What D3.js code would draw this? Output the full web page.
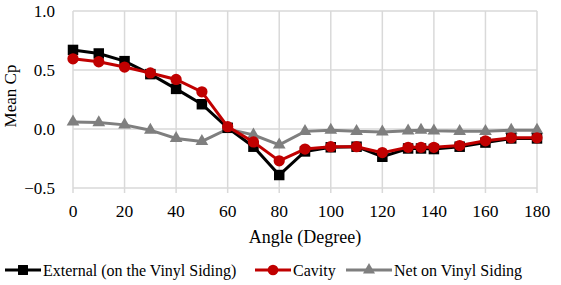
<!DOCTYPE html>
<html>
<head>
<meta charset="utf-8">
<script src="https://cdn.jsdelivr.net/npm/d3@7"></script>
<style>
  body { margin: 0; background: #fff; }
</style>
</head>
<body>
<div id="chart-area"></div>
<script>
var angles = [0, 10, 20, 30, 40, 50, 60, 70, 80, 90, 100, 110, 120, 130, 135, 140, 150, 160, 170, 180];
var external = [0.67, 0.64, 0.575, 0.465, 0.34, 0.21, 0.01, -0.15, -0.39, -0.19, -0.155, -0.15, -0.235, -0.165, -0.165, -0.17, -0.15, -0.115, -0.08, -0.08];
var cavity = [0.595, 0.57, 0.525, 0.475, 0.42, 0.315, 0.02, -0.11, -0.27, -0.17, -0.15, -0.15, -0.2, -0.155, -0.155, -0.155, -0.14, -0.1, -0.075, -0.075];
var net = [0.06, 0.055, 0.035, -0.01, -0.08, -0.105, 0.0, -0.05, -0.135, -0.02, -0.01, -0.02, -0.025, -0.015, -0.01, -0.015, -0.02, -0.02, -0.01, -0.01];
var xTicks = [0, 20, 40, 60, 80, 100, 120, 140, 160, 180];
var yTicks = [-0.5, 0.0, 0.5, 1.0];

var width = 561, height = 285;
var margin = { top: 11, right: 24, bottom: 97, left: 73 };

var svg = d3.select("#chart-area")
    .append("svg")
    .attr("width", width)
    .attr("height", height)
    .attr("font-family", "'Liberation Serif', 'Times New Roman', serif");

var x = d3.scaleLinear().domain([0, 180]).range([margin.left, width - margin.right]);
var y = d3.scaleLinear().domain([-0.5, 1.0]).range([height - margin.bottom, margin.top]);

// grid
svg.append("g").selectAll("line.vg")
    .data(xTicks)
    .enter().append("line")
    .attr("x1", d => x(d)).attr("x2", d => x(d))
    .attr("y1", y(1.0)).attr("y2", y(-0.5) + 5)
    .attr("stroke", "#d9d9d9").attr("stroke-width", 1.5);

svg.append("g").selectAll("line.hg")
    .data(yTicks)
    .enter().append("line")
    .attr("x1", x(0)).attr("x2", x(180))
    .attr("y1", d => y(d)).attr("y2", d => y(d))
    .attr("stroke", "#d9d9d9").attr("stroke-width", 1.5);

// tick labels
svg.append("g").selectAll("text")
    .data(yTicks)
    .enter().append("text")
    .attr("x", 55)
    .attr("y", d => y(d) + 6)
    .attr("text-anchor", "end")
    .attr("font-size", "17px")
    .text(d => d3.format(".1f")(d));

svg.append("g").selectAll("text")
    .data(xTicks)
    .enter().append("text")
    .attr("x", d => x(d))
    .attr("y", y(-0.5) + 29)
    .attr("text-anchor", "middle")
    .attr("font-size", "17.5px")
    .text(d => d);

svg.append("text")
    .attr("x", (x(0) + x(180)) / 2)
    .attr("y", 243)
    .attr("text-anchor", "middle")
    .attr("font-size", "18px")
    .text("Angle (Degree)");

svg.append("text")
    .attr("transform", "translate(16,96) rotate(-90)")
    .attr("text-anchor", "middle")
    .attr("font-size", "17px")
    .text("Mean Cp");

var series = [
    { name: "External (on the Vinyl Siding)", values: external, color: "#000000", shape: d3.symbolSquare, size: 110 },
    { name: "Cavity", values: cavity, color: "#c00000", shape: d3.symbolCircle, size: 100 },
    { name: "Net on Vinyl Siding", values: net, color: "#7f7f7f", shape: d3.symbolTriangle, size: 70 }
];

var line = d3.line().x(d => x(d[0])).y(d => y(d[1]));

// net underneath, cavity on top
[series[2], series[0], series[1]].forEach(s => {
    var pts = angles.map((a, i) => [a, s.values[i]]);
    svg.append("path")
        .datum(pts)
        .attr("fill", "none")
        .attr("stroke", s.color)
        .attr("stroke-width", 3)
        .attr("d", line);
    svg.append("g").selectAll("path")
        .data(pts)
        .enter().append("path")
        .attr("transform", d => "translate(" + x(d[0]) + "," + y(d[1]) + ")")
        .attr("d", d3.symbol().type(s.shape).size(s.size))
        .attr("fill", s.color);
});

// legend
var legendPos = [{ x: 5, w: 36 }, { x: 255, w: 36 }, { x: 346, w: 46 }];
series.forEach((s, i) => {
    var lg = svg.append("g").attr("transform", "translate(" + legendPos[i].x + ",270)");
    lg.append("line")
        .attr("x1", 0).attr("x2", legendPos[i].w)
        .attr("stroke", s.color).attr("stroke-width", 3);
    lg.append("path")
        .attr("transform", "translate(" + legendPos[i].w / 2 + ",0)")
        .attr("d", d3.symbol().type(s.shape).size(s.size * 0.9))
        .attr("fill", s.color);
    lg.append("text")
        .attr("x", legendPos[i].w + 2)
        .attr("y", 5.5)
        .attr("font-size", "16px")
        .text(s.name);
});
</script>
</body>
</html>
